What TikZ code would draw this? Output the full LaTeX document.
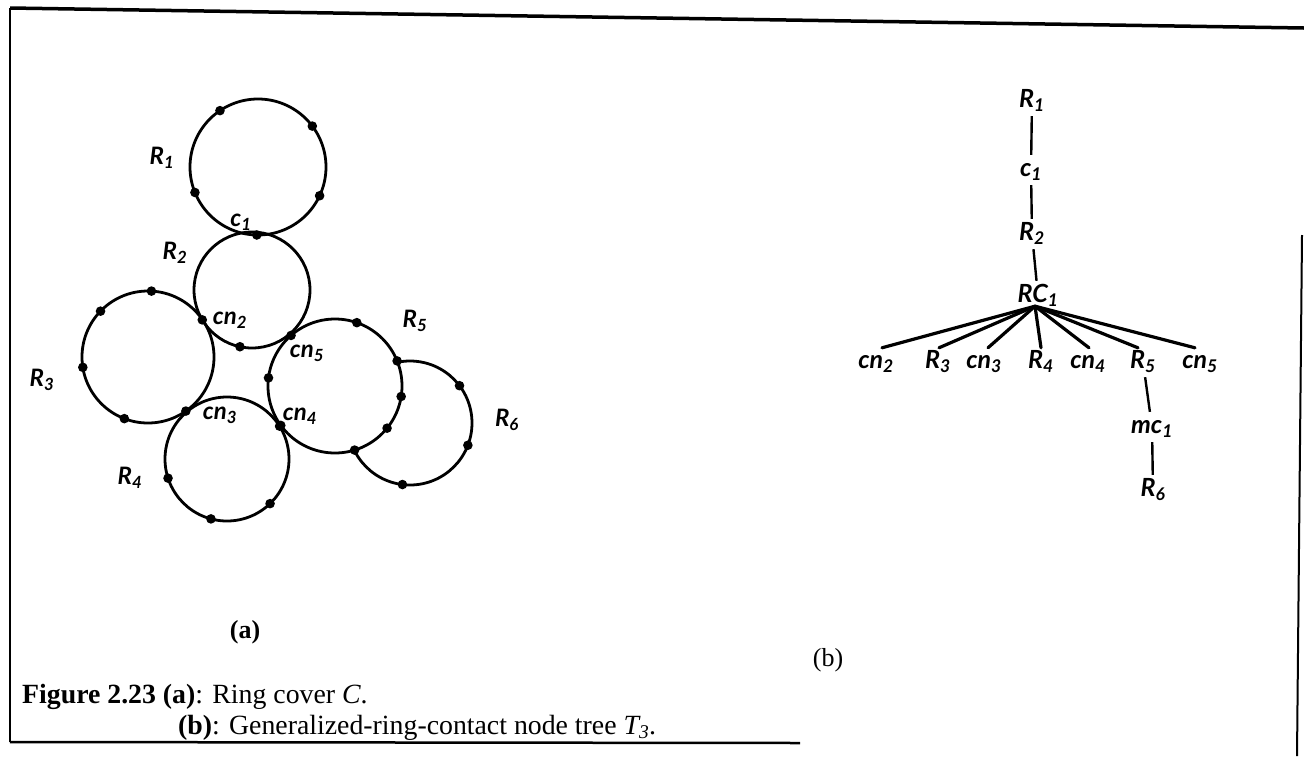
\documentclass[tikz,border=0pt]{standalone}
\usepackage{fontspec}
\setmainfont{Liberation Serif}
\newfontfamily\labfont{Lato}
\begin{document}
\begin{tikzpicture}[x=1pt,y=-1pt,
  ring/.style={line width=2.8pt},
  lab/.style={font=\labfont\bfseries\itshape\fontsize{24}{28}\selectfont, inner sep=0pt},
  tl/.style={font=\labfont\bfseries\itshape\fontsize{25}{29}\selectfont, inner sep=2pt, text height=16pt, text depth=4pt},
  fan/.style={line width=3.2pt, line cap=round},
  vl/.style={line width=2.4pt, shorten <=3pt, shorten >=3pt},
  captext/.style={font=\fontsize{27.8}{32}\selectfont, anchor=west, inner sep=0pt},
  subtext/.style={font=\fontsize{26}{30}\selectfont, inner sep=0pt}]
\useasboundingbox (0,0) rectangle (1304,756);
% frame
\coordinate (f1) at (10,8);
\coordinate (f2) at (1304,28);
\coordinate (f3) at (10,742);
\coordinate (f4) at (800,743);
\coordinate (f5) at (1302,235);
\coordinate (f6) at (1297,756);
\draw[line width=3.5pt] (f1) -- (f2);
\draw[line width=2pt] (f1) -- (f3);
\draw[line width=2.5pt] (f3) -- (f4);
\draw[line width=2pt] (f5) -- (f6);
% ring centres
\coordinate (C1) at (258,167);
\coordinate (C2) at (252,290);
\coordinate (C3) at (148,357);
\coordinate (C4) at (227,459);
\coordinate (C5) at (335,386);
\coordinate (C6) at (410,423);
\draw[ring] (C6) circle[radius=62];
\draw[ring, fill=white] (C5) circle[radius=67];
\draw[ring] (C1) circle[radius=68];
\draw[ring] (C2) circle[radius=58];
\draw[ring] (C3) circle[radius=66];
\draw[ring] (C4) circle[radius=62];
% dots
\foreach \a in {236,323,158,25,91} \fill (C1) ++(\a:68) circle[radius=4.8];
\foreach \a in {102,149} \fill (C2) ++(\a:58) circle[radius=4.8];
\foreach \a in {273,224,171,111,55} \fill (C3) ++(\a:66) circle[radius=4.8];
\foreach \a in {162,105,46,328} \fill (C4) ++(\a:62) circle[radius=4.8];
\foreach \a in {289,338,9,39,73,187,144,229} \fill (C5) ++(\a:67) circle[radius=4.8];
\foreach \a in {323,21,97} \fill (C6) ++(\a:62) circle[radius=4.8];
% ring labels
\node[lab] (lR1) at (162,158) {R\textsubscript{1}};
\node[lab] (lc1) at (241,222) {c\textsubscript{1}};
\node[lab] (lR2) at (175,253) {R\textsubscript{2}};
\node[lab] (lcn2) at (230,320) {cn\textsubscript{2}};
\node[lab] (lcn5) at (307,353) {cn\textsubscript{5}};
\node[lab] (lcn3) at (220,415) {cn\textsubscript{3}};
\node[lab] (lcn4) at (300,416) {cn\textsubscript{4}};
\node[lab] (lR3) at (42,380) {R\textsubscript{3}};
\node[lab] (lR4) at (130,478) {R\textsubscript{4}};
\node[lab] (lR5) at (415,321) {R\textsubscript{5}};
\node[lab] (lR6) at (507,420) {R\textsubscript{6}};
% tree
\node[tl] (tR1) at (1032,101) {R\textsubscript{1}};
\node[tl] (tc1) at (1031,170) {c\textsubscript{1}};
\node[tl] (tR2) at (1032,234) {R\textsubscript{2}};
\node[tl] (tRC) at (1038,296) {RC\textsubscript{1}};
\node[tl] (tcn2) at (876,362) {cn\textsubscript{2}};
\node[tl] (tR3) at (938,362) {R\textsubscript{3}};
\node[tl] (tcn3) at (984,362) {cn\textsubscript{3}};
\node[tl] (tR4) at (1041,362) {R\textsubscript{4}};
\node[tl] (tcn4) at (1088,362) {cn\textsubscript{4}};
\node[tl] (tR5) at (1143,362) {R\textsubscript{5}};
\node[tl] (tcn5) at (1200,362) {cn\textsubscript{5}};
\node[tl] (tmc1) at (1152,427) {mc\textsubscript{1}};
\node[tl] (tR6) at (1153,490) {R\textsubscript{6}};
\draw[vl] (tR1) -- (tc1);
\draw[vl] (tc1) -- (tR2);
\draw[vl] (tR2) -- (tRC);
\draw[vl] (tR5) -- (tmc1);
\draw[vl] (tmc1) -- (tR6);
\foreach \c/\dx in {tcn2/6,tR3/1,tcn3/4,tR4/0,tcn4/1,tR5/-5,tcn5/-5}
  \draw[fan] ([xshift=-3pt,yshift=2pt]tRC.south) -- ([xshift=\dx pt,yshift=2pt]\c.north);
% sub-figure labels
\node[subtext, font=\bfseries\fontsize{26}{30}\selectfont] (sa) at (245,632) {(a)};
\node[subtext] (sb) at (828,660) {(b)};
% caption
\node[captext] (cap1) at (22,697) {\textbf{Figure 2.23 (a)}: Ring cover \textit{C}.};
\node[captext] (cap2) at (178,728) {\textbf{(b)}: Generalized-ring-contact node tree \textit{T\textsubscript{3}}.};
\end{tikzpicture}
\end{document}
